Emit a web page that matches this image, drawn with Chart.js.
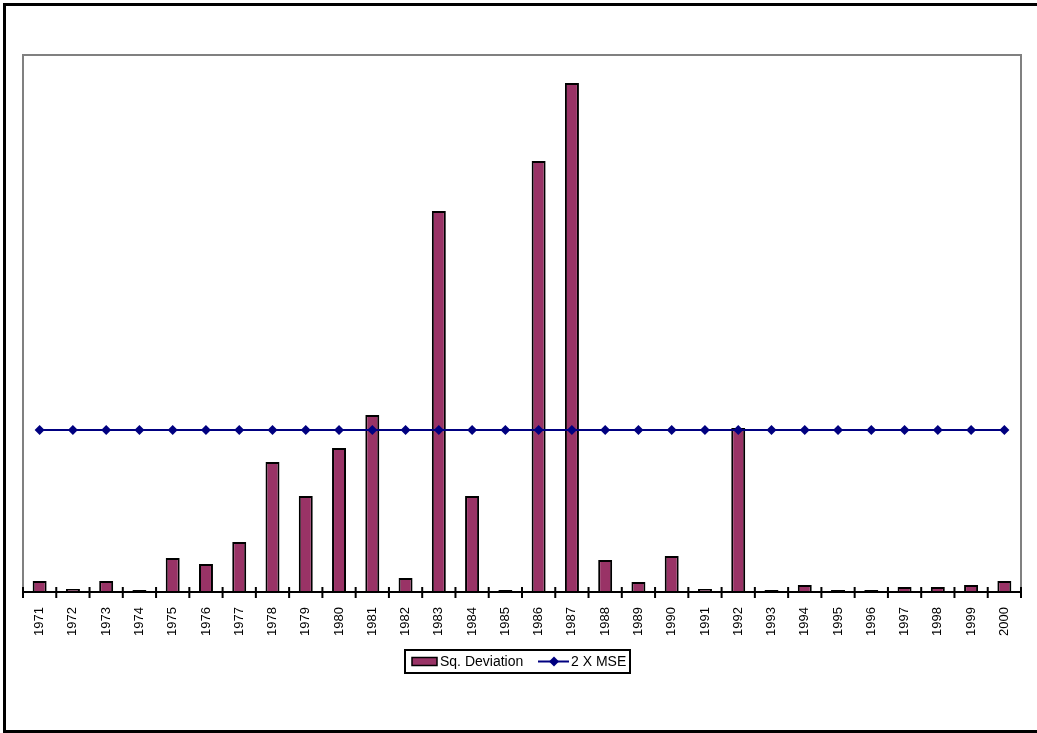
<!DOCTYPE html>
<html>
<head>
<meta charset="utf-8">
<script src="https://cdn.jsdelivr.net/npm/chart.js@4/dist/chart.umd.min.js"></script>
<style>
  body { margin: 0; background: #fff; }
  #wrap { position: relative; width: 1037px; height: 733px; }
  #frame { position: absolute; left: 3px; top: 3px; width: 1040px; height: 724px;
           border-left: 3px solid #000; border-top: 3px solid #000; border-bottom: 3px solid #000;
           pointer-events: none; }
</style>
</head>
<body>
<div id="wrap">
  <canvas id="myChart" width="1037" height="733"></canvas>
  <div id="frame"></div>
</div>
<script>
// years on the x axis
const years = ['1971','1972','1973','1974','1975','1976','1977','1978','1979','1980',
  '1981','1982','1983','1984','1985','1986','1987','1988','1989','1990',
  '1991','1992','1993','1994','1995','1996','1997','1998','1999','2000'];

// squared deviation per year
const sqDeviation = [11, 3, 11, 2, 34, 28, 50, 130, 96, 144,
  177, 14, 381, 96, 2, 431, 509, 32, 10, 36,
  3, 164, 2, 7, 2, 2, 5, 5, 7, 11];

// 2 x mean squared error (flat line)
const twoMse = [162, 162, 162, 162, 162, 162, 162, 162, 162, 162,
  162, 162, 162, 162, 162, 162, 162, 162, 162, 162,
  162, 162, 162, 162, 162, 162, 162, 162, 162, 162];

const yMax = 537;

const barColor = '#993366';
const lineColor = '#000080';

// grey box round the plot area, ticks crossing the axis
const plotFrame = {
  id: 'plotFrame',
  beforeDatasetsDraw(chart) {
    const a = chart.chartArea;
    const c = chart.ctx;
    c.save();
    c.strokeStyle = '#808080';
    c.lineWidth = 2;
    c.strokeRect(a.left, a.top, a.right - a.left, a.bottom - a.top);
    c.restore();
  },
  afterDatasetsDraw(chart) {
    const a = chart.chartArea;
    const c = chart.ctx;
    const x = chart.scales.x;
    c.save();
    c.strokeStyle = '#000';
    c.lineWidth = 2;
    c.beginPath();
    c.moveTo(a.left, a.bottom);
    c.lineTo(a.right, a.bottom);
    const step = (a.right - a.left) / years.length;
    for (let i = 0; i <= years.length; i++) {
      const px = i < years.length ? x.getPixelForValue(i) - step / 2 : x.getPixelForValue(i - 1) + step / 2;
      c.moveTo(px, a.bottom - 5);
      c.lineTo(px, a.bottom + 6);
    }
    c.stroke();
    c.restore();
  }
};

// legend box under the axis
const boxLegend = {
  id: 'boxLegend',
  afterDraw(chart) {
    const c = chart.ctx;
    const cx = chart.width / 2;
    const w = 225, h = 23;
    const left = Math.round(cx - w / 2) - 1;
    const top = 650;
    c.save();
    c.strokeStyle = '#000';
    c.lineWidth = 2;
    c.strokeRect(left, top, w, h);
    const my = top + h / 2;
    // bar swatch
    c.fillStyle = barColor;
    c.fillRect(left + 7, my - 4, 25, 8);
    c.lineWidth = 1.5;
    c.strokeRect(left + 7, my - 4, 25, 8);
    c.fillStyle = '#000';
    c.font = '14px "Liberation Sans", Arial, sans-serif';
    c.textBaseline = 'middle';
    c.fillText('Sq. Deviation', left + 35, my + 1);
    // line swatch
    c.strokeStyle = lineColor;
    c.lineWidth = 2;
    c.beginPath();
    c.moveTo(left + 133, my);
    c.lineTo(left + 164, my);
    c.stroke();
    c.fillStyle = lineColor;
    c.beginPath();
    c.moveTo(left + 149, my - 5);
    c.lineTo(left + 154, my);
    c.lineTo(left + 149, my + 5);
    c.lineTo(left + 144, my);
    c.closePath();
    c.fill();
    c.fillStyle = '#000';
    c.fillText('2 X MSE', left + 166, my + 1);
    c.restore();
  }
};

const ctx = document.getElementById('myChart').getContext('2d');
const myChart = new Chart(ctx, {
  type: 'bar',
  data: {
    labels: years,
    datasets: [
      {
        type: 'line',
        label: '2 X MSE',
        data: twoMse,
        borderColor: lineColor,
        backgroundColor: lineColor,
        borderWidth: 2,
        pointStyle: 'rectRot',
        pointRadius: 5,
        pointBorderWidth: 0,
        fill: false,
        order: 0
      },
      {
        label: 'Sq. Deviation',
        data: sqDeviation,
        backgroundColor: barColor,
        borderColor: '#000',
        borderWidth: 2,
        barPercentage: 0.42,
        categoryPercentage: 1,
        order: 1
      }
    ]
  },
  options: {
    responsive: false,
    animation: false,
    layout: { padding: { left: 23, right: 16, top: 55, bottom: 0 } },
    plugins: {
      legend: { display: false },
      tooltip: { enabled: false }
    },
    scales: {
      x: {
        grid: { display: false },
        border: { display: false },
        ticks: {
          color: '#000',
          font: { family: '"Liberation Sans", Arial, sans-serif', size: 13 },
          minRotation: 90,
          maxRotation: 90,
          padding: 7,
          autoSkip: false
        },
        afterFit(scale) { scale.height = 141; }
      },
      y: {
        display: false,
        min: 0,
        max: yMax
      }
    }
  },
  plugins: [plotFrame, boxLegend]
});
</script>
</body>
</html>
